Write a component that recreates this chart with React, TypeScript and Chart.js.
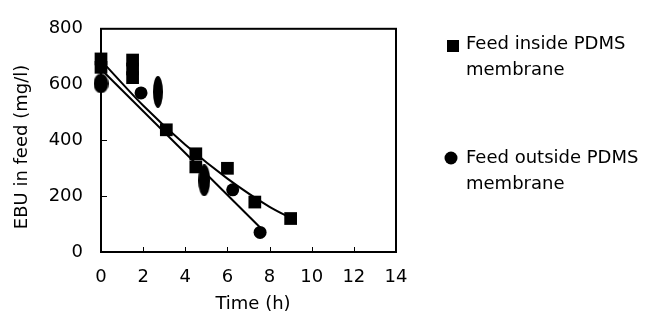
import React, { useEffect, useRef } from "react";
import { Chart, registerables } from "chart.js";

Chart.register(...registerables);

// ---- data ----
const xTicks = [0, 2, 4, 6, 8, 10, 12, 14];
const yTicks = [0, 200, 400, 600, 800];

// Feed inside PDMS membrane (squares)
const insideTimes = [0, 0, 1.5, 1.5, 1.5, 3.1, 4.5, 4.5, 6, 7.3, 9];
const insideValues = [692, 662, 688, 656, 625, 438, 352, 305, 300, 179, 120];

// Feed outside PDMS membrane (circles)
const outsideTimes = [0, 1.9, 2.7, 4.9, 6.25, 7.55];
const outsideValues = [604, 570, 574, 257, 223, 70];

// trend lines as traced on the picture
const insideFitTimes = [0, 2, 4, 6, 8, 9];
const insideFitValues = [687, 525, 384, 263, 162, 122];
const outsideFitTimes = [0, 7.6];
const outsideFitValues = [655, 84];

const legendLabels = [
  ["Feed inside PDMS", "membrane"],
  ["Feed outside PDMS", "membrane"],
];
const xTitle = "Time (h)";
const yTitle = "EBU in feed (mg/l)";

// ---- style ----
const FONT = "'DejaVu Sans', sans-serif";
const elongated: Record<number, [number, number]> = { 0: [15, 20], 2: [10, 32], 3: [12, 32] };

function ellipseImage(w: number, h: number) {
  const c = document.createElement("canvas");
  c.width = w;
  c.height = h;
  const g = c.getContext("2d")!;
  g.fillStyle = "#000";
  g.beginPath();
  g.ellipse(w / 2, h / 2, w / 2, h / 2, 0, 0, Math.PI * 2);
  g.fill();
  return c;
}

const toPts = (xs: number[], ys: number[]) => xs.map((x, i) => ({ x, y: ys[i] }));

const framePlugin = {
  id: "frameAndText",
  afterDraw(chart: any) {
    const { ctx, chartArea, scales } = chart;
    const { left, right, top, bottom } = chartArea;
    ctx.save();
    ctx.strokeStyle = "#000";
    ctx.lineWidth = 2;
    ctx.strokeRect(left, top, right - left, bottom - top);
    ctx.lineWidth = 1;
    ctx.beginPath();
    xTicks.forEach((t) => {
      if (t === 0 || t === 14) return;
      const px = Math.round(scales.x.getPixelForValue(t)) + 0.5;
      ctx.moveTo(px, bottom);
      ctx.lineTo(px, bottom - 5);
    });
    yTicks.forEach((t) => {
      if (t === 0 || t === 800) return;
      const py = Math.round(scales.y.getPixelForValue(t)) + 0.5;
      ctx.moveTo(left, py);
      ctx.lineTo(left + 6, py);
    });
    ctx.stroke();

    ctx.fillStyle = "#000";
    ctx.font = `18px ${FONT}`;
    ctx.textAlign = "center";
    ctx.textBaseline = "middle";
    ctx.fillText(xTitle, 253, 304);
    ctx.save();
    ctx.translate(22, 147);
    ctx.rotate(-Math.PI / 2);
    ctx.fillText(yTitle, 0, 0);
    ctx.restore();

    // legend
    ctx.textAlign = "left";
    ctx.textBaseline = "alphabetic";
    ctx.fillRect(447, 40, 12, 12);
    ctx.fillText(legendLabels[0][0], 466, 49);
    ctx.fillText(legendLabels[0][1], 466, 75);
    ctx.beginPath();
    ctx.arc(451, 158, 6.5, 0, Math.PI * 2);
    ctx.fill();
    ctx.fillText(legendLabels[1][0], 466, 162.5);
    ctx.fillText(legendLabels[1][1], 466, 188.5);
    ctx.restore();
  },
};

export default function App() {
  const ref = useRef<HTMLCanvasElement>(null);
  useEffect(() => {
    if (!ref.current) return;
    const imgs: Record<number, HTMLCanvasElement> = {};
    Object.keys(elongated).forEach((k) => {
      const [w, h] = elongated[+k];
      imgs[+k] = ellipseImage(w, h);
    });
    const chart = new Chart(ref.current, {
      type: "scatter",
      data: {
        datasets: [
          {
            label: legendLabels[0].join(" "),
            data: toPts(insideTimes, insideValues),
            pointStyle: "rect",
            pointRadius: 9,
            backgroundColor: "#000",
            borderColor: "#000",
            borderWidth: 0,
            showLine: false,
            clip: false,
            order: 1,
          },
          {
            label: legendLabels[1].join(" "),
            data: toPts(outsideTimes, outsideValues),
            pointStyle: (ctx: any) => imgs[ctx.dataIndex] || "circle",
            pointRadius: 6.5,
            backgroundColor: "#000",
            borderColor: "#000",
            borderWidth: 0,
            showLine: false,
            clip: false,
            order: 1,
          },
          {
            type: "line",
            label: "fit inside",
            data: toPts(insideFitTimes, insideFitValues),
            borderColor: "#000",
            borderWidth: 2,
            pointRadius: 0,
            tension: 0.4,
            cubicInterpolationMode: "monotone",
            fill: false,
            showLine: true,
            clip: false,
            order: 2,
          } as any,
          {
            type: "line",
            label: "fit outside",
            data: toPts(outsideFitTimes, outsideFitValues),
            borderColor: "#000",
            borderWidth: 2,
            pointRadius: 0,
            fill: false,
            showLine: true,
            clip: false,
            order: 2,
          } as any,
        ],
      },
      options: {
        responsive: false,
        animation: false,
        events: [],
        layout: { padding: { top: 20, right: 252, left: 0, bottom: 0 } },
        plugins: { legend: { display: false }, tooltip: { enabled: false } },
        scales: {
          x: {
            type: "linear",
            min: 0,
            max: 14,
            afterFit: (s: any) => {
              s.height = 82;
            },
            afterBuildTicks: (s: any) => {
              s.ticks = xTicks.map((v) => ({ value: v }));
            },
            ticks: {
              color: "#000",
              font: { family: FONT, size: 18 },
              padding: 15,
              maxRotation: 0,
              autoSkip: false,
            },
            grid: { display: false, drawTicks: false },
            border: { display: false },
          },
          y: {
            type: "linear",
            min: 0,
            max: 800,
            afterFit: (s: any) => {
              s.width = 101;
            },
            afterBuildTicks: (s: any) => {
              s.ticks = yTicks.map((v) => ({ value: v }));
            },
            ticks: {
              color: "#000",
              font: { family: FONT, size: 18 },
              padding: 18,
              autoSkip: false,
            },
            grid: { display: false, drawTicks: false },
            border: { display: false },
          },
        },
      },
      plugins: [framePlugin],
    } as any);
    return () => chart.destroy();
  }, []);
  return (
    <div style={{ position: "absolute", left: 0, top: 0, width: 648, height: 334, background: "#fff" }}>
      <canvas ref={ref} width={648} height={334} />
    </div>
  );
}
